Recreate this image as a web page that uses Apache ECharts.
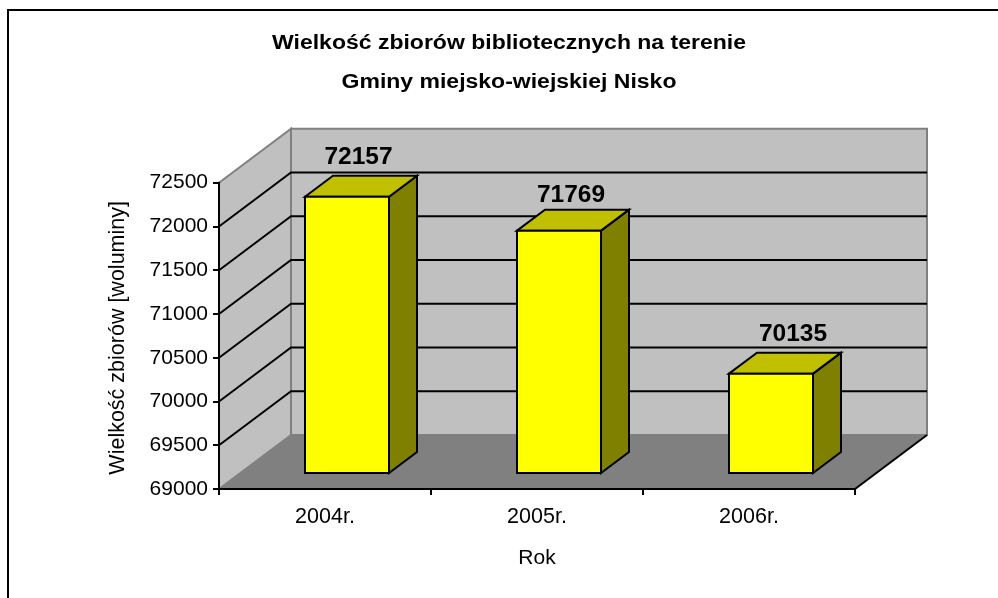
<!DOCTYPE html>
<html><head><meta charset="utf-8">
<style>html,body{margin:0;padding:0;background:#fff}#c{width:998px;height:598px}</style>
<script src="https://cdn.jsdelivr.net/npm/echarts@6/dist/echarts.min.js"></script>
</head><body><div id="c"></div>
<script>
var categories = ['2004r.', '2005r.', '2006r.'];
var values = [72157, 71769, 70135];
var yMin = 69000, yMax = 72500, yStep = 500;
var gridValues = [69500, 70000, 70500, 71000, 71500, 72000];
var titleText = 'Wielkość zbiorów bibliotecznych na terenie\nGminy miejsko-wiejskiej Nisko';
var yName = 'Wielkość zbiorów [woluminy]';
var xName = 'Rok';
var labelShiftX = [11.5, 12, 22];
var labelShiftY = [-39, -35, -39];

var DX = 72, DY = -54;          // wall depth in pixels
var BAR_W = 84, BAR_DX = 28, BAR_DY = -21, BAR_OFF_X = 22, BAR_OFF_Y = -16;
var FONT = '"Liberation Sans", Arial, sans-serif';

function wallItem(params, api) {
  var a = api.coord([0, yMin]), tl = api.coord([0, yMax]);
  var cs = params.coordSys, l = cs.x, r = cs.x + cs.width, t = tl[1], b = a[1];
  var edge = {stroke: '#808080', lineWidth: 2, lineJoin: 'miter'};
  return {type: 'group', children: [
    {type: 'polygon', shape: {points: [[l, b], [r, b], [r + DX, b + DY], [l + DX, b + DY]]},
     style: {fill: '#808080', stroke: '#808080', lineWidth: 1}},
    {type: 'polygon', shape: {points: [[l, t], [l + DX, t + DY], [l + DX, b + DY], [l, b]]},
     style: Object.assign({fill: '#c0c0c0'}, edge)},
    {type: 'polygon', shape: {points: [[l + DX, t + DY], [r + DX, t + DY], [r + DX, b + DY], [l + DX, b + DY]]},
     style: Object.assign({fill: '#c0c0c0'}, edge)},
    {type: 'line', shape: {x1: r, y1: b, x2: r + DX, y2: b + DY}, style: {stroke: '#000', lineWidth: 2}}
  ]};
}
function gridItem(params, api) {
  var y = api.coord([0, api.value(0)])[1];
  var cs = params.coordSys, l = cs.x, r = cs.x + cs.width;
  return {type: 'polyline', shape: {points: [[l, y], [l + DX, y + DY], [r + DX, y + DY]]},
          style: {stroke: '#000', lineWidth: 2, fill: null}};
}
function barItem(params, api) {
  var c = api.coord([api.value(0), yMin]), top = api.coord([api.value(0), api.value(1)]);
  var x0 = c[0] + BAR_OFF_X - BAR_W / 2, x1 = x0 + BAR_W;
  var yb = c[1] + BAR_OFF_Y, yt = top[1] + BAR_OFF_Y;
  var line = {stroke: '#000', lineWidth: 2, lineJoin: 'miter'};
  return {type: 'group', children: [
    {type: 'polygon', shape: {points: [[x1, yt], [x1 + BAR_DX, yt + BAR_DY], [x1 + BAR_DX, yb + BAR_DY], [x1, yb]]},
     style: Object.assign({fill: '#808000'}, line)},
    {type: 'polygon', shape: {points: [[x0, yt], [x0 + BAR_DX, yt + BAR_DY], [x1 + BAR_DX, yt + BAR_DY], [x1, yt]]},
     style: Object.assign({fill: '#c0c000'}, line)},
    {type: 'rect', shape: {x: x0, y: yt, width: BAR_W, height: yb - yt},
     style: Object.assign({fill: '#ffff00'}, line)},
    {type: 'text', style: {text: String(api.value(1)), x: (x0 + x1) / 2 + labelShiftX[params.dataIndex],
       y: yt + labelShiftY[params.dataIndex], align: 'center', verticalAlign: 'middle',
       font: 'bold 24.5px ' + FONT, fill: '#000'}}
  ]};
}
var chart = echarts.init(document.getElementById('c'), null, {renderer: 'canvas'});
chart.setOption({
  animation: false,
  backgroundColor: '#fff',
  graphic: [
    {type: 'polyline', shape: {points: [[8, 598], [8, 10], [998, 10]]},
     style: {stroke: '#000', lineWidth: 2, fill: null}, silent: true},
    {type: 'text', x: 509, y: 23.5, scaleX: 1.15, silent: true,
     style: {text: titleText, align: 'center', verticalAlign: 'top', lineHeight: 39,
       font: 'bold 20px ' + FONT, fill: '#000'}}
  ],
  grid: {left: 219, right: 143, top: 182.7, bottom: 109},
  xAxis: {type: 'category', data: categories, z: 10, boundaryGap: true,
    name: xName, nameLocation: 'middle', nameGap: 59,
    nameTextStyle: {fontFamily: FONT, fontSize: 21, color: '#000'},
    axisLine: {lineStyle: {color: '#000', width: 2}},
    axisTick: {show: true, alignWithLabel: false, length: 6, lineStyle: {color: '#000', width: 2}},
    axisLabel: {fontFamily: FONT, fontSize: 21.5, color: '#000', margin: 17},
    splitLine: {show: false}},
  yAxis: {type: 'value', min: yMin, max: yMax, interval: yStep, z: 10,
    name: yName, nameLocation: 'middle', nameGap: 90, nameRotate: 90,
    nameTextStyle: {fontFamily: FONT, fontSize: 21.5, color: '#000', padding: [0, 4, 0, 0]},
    axisLine: {show: true, lineStyle: {color: '#000', width: 2}},
    axisTick: {show: true, length: 6, lineStyle: {color: '#000', width: 2}},
    axisLabel: {fontFamily: FONT, fontSize: 21, color: '#000', margin: 11, padding: [3, 0, 0, 0],
      formatter: function (v) { return String(v); }},
    splitLine: {show: false}},
  series: [
    {type: 'custom', z: 2, silent: true, renderItem: wallItem, data: [[0]], encode: {y: 0}, clip: false},
    {type: 'custom', z: 3, silent: true, renderItem: gridItem, data: gridValues.map(function (v) { return [v]; }), encode: {y: 0}, clip: false},
    {type: 'custom', z: 4, renderItem: barItem, data: values.map(function (v, i) { return [i, v]; }), encode: {x: 0, y: 1}, clip: false}
  ]
});
</script></body></html>
